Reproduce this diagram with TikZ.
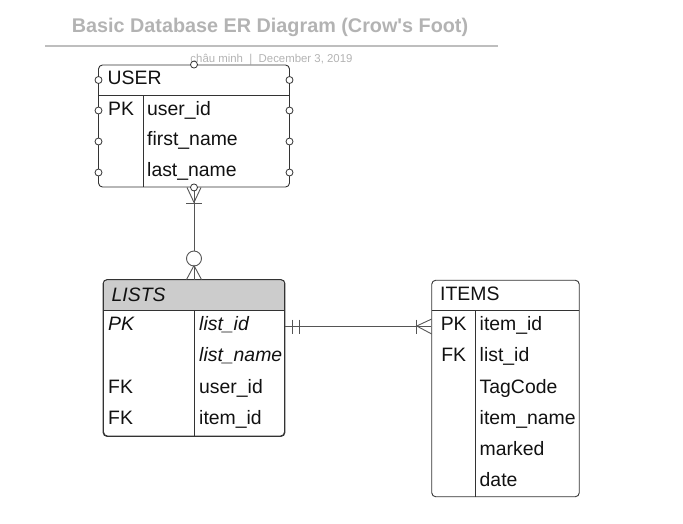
\documentclass[tikz,border=0pt]{standalone}
\usepackage{fontspec}
\setmainfont{Liberation Sans}
\usetikzlibrary{positioning}
\definecolor{edgegray}{HTML}{333333}
\definecolor{conngray}{HTML}{555555}
\definecolor{titlegray}{HTML}{B3B3B3}
\definecolor{headgray}{HTML}{CCCCCC}
\definecolor{textblack}{HTML}{111111}

\begin{document}
\begin{tikzpicture}[x=1pt, y=-1pt,
    entity/.style={rectangle, draw=edgegray, fill=white, rounded corners=4pt, inner sep=0pt, line width=0.9pt},
    field/.style={anchor=base west, inner sep=0pt, font=\fontsize{19.4}{19.4}\selectfont, text=textblack},
    keycol/.style={field, anchor=base},
    divider/.style={draw=edgegray, line width=0.8pt},
    port/.style={draw=edgegray, fill=white, line width=0.8pt},
    conn/.style={draw=conngray, line width=0.9pt}
]
\useasboundingbox (0,0) rectangle (683,523);

% title
\node[anchor=base, text=titlegray, font=\fontsize{19.8}{19.8}\selectfont\bfseries] (title) at (270,32) {Basic Database ER Diagram (Crow\textquotesingle s Foot)};
\draw[titlegray!85, line width=1.8pt] (45,46) -- (498,46);
\node[anchor=base, text=titlegray, font=\fontsize{11.4}{11.4}\selectfont] (byline) at (271.5,62) {châu minh \;|\; December 3, 2019};

% tables
\node[entity, minimum width=191pt, minimum height=122pt] (user) at (194,126) {};
\node[entity, minimum width=181pt, minimum height=156pt] (lists) at (194,358) {};
\node[entity, minimum width=147.5pt, minimum height=216.5pt] (items) at (505.5,388.5) {};

\begin{scope}
  \clip[rounded corners=4pt] (103.5,280) rectangle (284.5,436);
  \fill[headgray] (103.5,280) rectangle (284.5,310);
\end{scope}
\draw[entity, fill=none] (lists.north west) rectangle (lists.south east);

\draw[divider] (98.5,95.5) -- (289.5,95.5);
\draw[divider] (143.3,95.5) -- (143.3,187);
\draw[divider] (103.5,310) -- (284.5,310);
\draw[divider] (194.3,310) -- (194.3,436);
\draw[divider] (431.7,310) -- (579.3,310);
\draw[divider] (475.7,310) -- (475.7,496.7);

% USER
\node[field] (userhead) at (107.5,84) {USER};
\node[keycol] (userpk) at (121,115) {PK};
\node[field] (userid) at (147,115) {user\_id};
\node[field] (firstname) at (147,145.5) {first\_name};
\node[field] (lastname) at (147,176) {last\_name};

% LISTS
\node[field, font=\fontsize{19.4}{19.4}\selectfont\itshape] (listshead) at (111.5,301) {LISTS};
\node[field, font=\fontsize{19.4}{19.4}\selectfont\itshape] (listspk) at (108,330) {PK};
\node[field, font=\fontsize{19.4}{19.4}\selectfont\itshape] (listid) at (199,330) {list\_id};
\node[field, font=\fontsize{19.4}{19.4}\selectfont\itshape] (listname) at (199,361.5) {list\_name};
\node[field] (listsfk1) at (108,393) {FK};
\node[field] (listsuser) at (199,393) {user\_id};
\node[field] (listsfk2) at (108,424) {FK};
\node[field] (listsitem) at (199,424) {item\_id};

% ITEMS
\node[field] (itemshead) at (440,300) {ITEMS};
\node[keycol] (itemspk) at (453.7,330) {PK};
\node[field] (itemid) at (479.5,330) {item\_id};
\node[keycol] (itemsfk) at (453.7,361) {FK};
\node[field] (itemslist) at (479.5,361) {list\_id};
\node[field] (tagcode) at (479.5,393) {TagCode};
\node[field] (itemname) at (479.5,424) {item\_name};
\node[field] (marked) at (479.5,455) {marked};
\node[field] (date) at (479.5,486) {date};

% USER -- LISTS
\draw[conn] (user.south) -- (lists.north);
\draw[conn] ([xshift=-7pt]user.south) -- ++(7,15) -- ++(7,-15);
\draw[conn] (186,203.5) -- (202,203.5);
\draw[conn, fill=white] (194,258.5) circle (7.5pt);
\draw[conn] ([xshift=-7.5pt]lists.north) -- ++(7.5,-14) -- ++(7.5,14);

% LISTS -- ITEMS
\draw[conn] ([yshift=32pt]lists.east) -- ([yshift=62.5pt]items.west);
\draw[conn] (292,319.5) -- (292,334) (299.3,319.5) -- (299.3,334);
\draw[conn] (416.7,319.5) -- (416.7,334);
\draw[conn] (431.7,319) -- (416.7,326) -- (431.7,334);

% connection points on USER
\foreach \y in {80,110.5,141.5,172.5} {
  \draw[port] (98.5,\y) circle (3.5pt);
  \draw[port] (289.5,\y) circle (3.5pt);
}
\draw[port] (user.north) circle (3.5pt);
\draw[port] (user.south) circle (3.5pt);

\end{tikzpicture}
\end{document}
